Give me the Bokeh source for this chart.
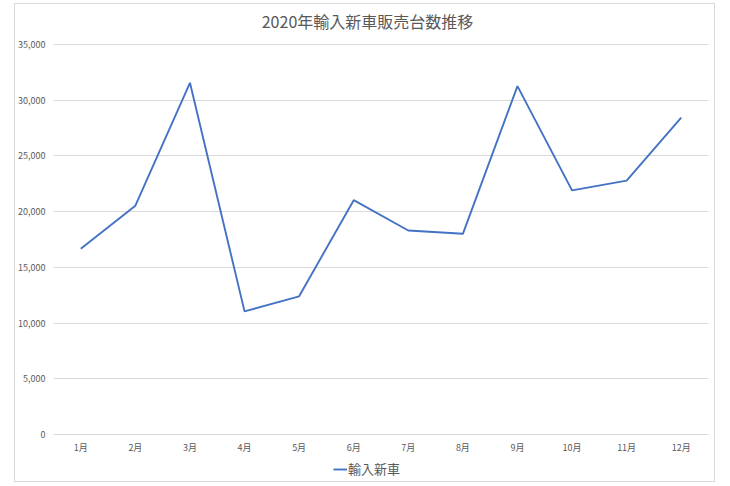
from bokeh.plotting import figure
from bokeh.models import (Range1d, FactorRange, NumeralTickFormatter, FixedTicker, Legend,
                          LegendItem, Label)
from bokeh.embed import file_html
from bokeh.resources import INLINE

months = ["1月", "2月", "3月", "4月", "5月", "6月", "7月", "8月", "9月", "10月", "11月", "12月"]
imports = [16660, 20530, 31560, 11050, 12400, 21030, 18310, 18010, 31260, 21910, 22780, 28440]
series_name = "輸入新車"
title_text = "2020年輸入新車販売台数推移"
y_ticks = [0, 5000, 10000, 15000, 20000, 25000, 30000, 35000]
y_max = 35000

FONT = "Noto Sans CJK JP"
GRAY = "#595959"
GRID = "#d9d9d9"

# layout (pixels)
W, H = 701, 479
B_LEFT, B_RIGHT = 37, 8
TOP_GAP = 40        # canvas top -> top gridline
AXIS_SPAN = 390     # 0 -> y_max
upp = y_max / AXIS_SPAN
y_end = y_max + TOP_GAP * upp
y_start = y_end - H * upp

p = figure(width=W, height=H, x_range=FactorRange(*months, range_padding=0),
           y_range=Range1d(y_start, y_end), output_backend="svg", toolbar_location=None,
           min_border_left=B_LEFT, min_border_right=B_RIGHT, min_border_top=0,
           min_border_bottom=0)
p.margin = (3, 0, 0, 14)
p.styles = {"border": "1px solid #d9d9d9"}

r = p.line(x=months, y=imports, line_color="#4472C4", line_width=1.9)

title = Label(x=314, y=H - 16, x_units="screen", y_units="screen", text=title_text,
              text_align="center", text_baseline="middle", text_font=FONT,
              text_font_size="16px", text_color=GRAY)
p.add_layout(title)

p.outline_line_color = None
p.xgrid.grid_line_color = None
p.ygrid.ticker = FixedTicker(ticks=y_ticks)
p.ygrid.grid_line_color = GRID
p.ygrid.grid_line_width = 1

p.yaxis.ticker = FixedTicker(ticks=y_ticks)
p.yaxis.formatter = NumeralTickFormatter(format="0,0")
p.yaxis.axis_line_color = None
p.yaxis.major_tick_line_color = None
p.yaxis.major_tick_out = 0
p.yaxis.major_tick_in = 0
p.yaxis.minor_tick_line_color = None
p.yaxis.major_label_text_font = FONT
p.yaxis.major_label_text_font_size = "9px"
p.yaxis.major_label_text_color = GRAY
p.yaxis.major_label_standoff = 8

p.xaxis.fixed_location = 0
p.xaxis.axis_line_color = GRID
p.xaxis.major_tick_line_color = None
p.xaxis.major_tick_out = 0
p.xaxis.major_tick_in = 0
p.xaxis.minor_tick_line_color = None
p.xaxis.major_label_text_font = FONT
p.xaxis.major_label_text_font_size = "9px"
p.xaxis.major_label_text_color = GRAY
p.xaxis.major_label_standoff = 6

legend = Legend(items=[LegendItem(label=series_name, renderers=[r])], location=(280, 5),
                orientation="horizontal", border_line_color=None, background_fill_alpha=0,
                label_text_font=FONT, label_text_font_size="13px", label_text_color=GRAY,
                glyph_width=14, glyph_height=16, label_height=16, label_standoff=1,
                padding=2, margin=0)
p.add_layout(legend, "center")

open("out.html", "w").write(file_html(p, INLINE))
